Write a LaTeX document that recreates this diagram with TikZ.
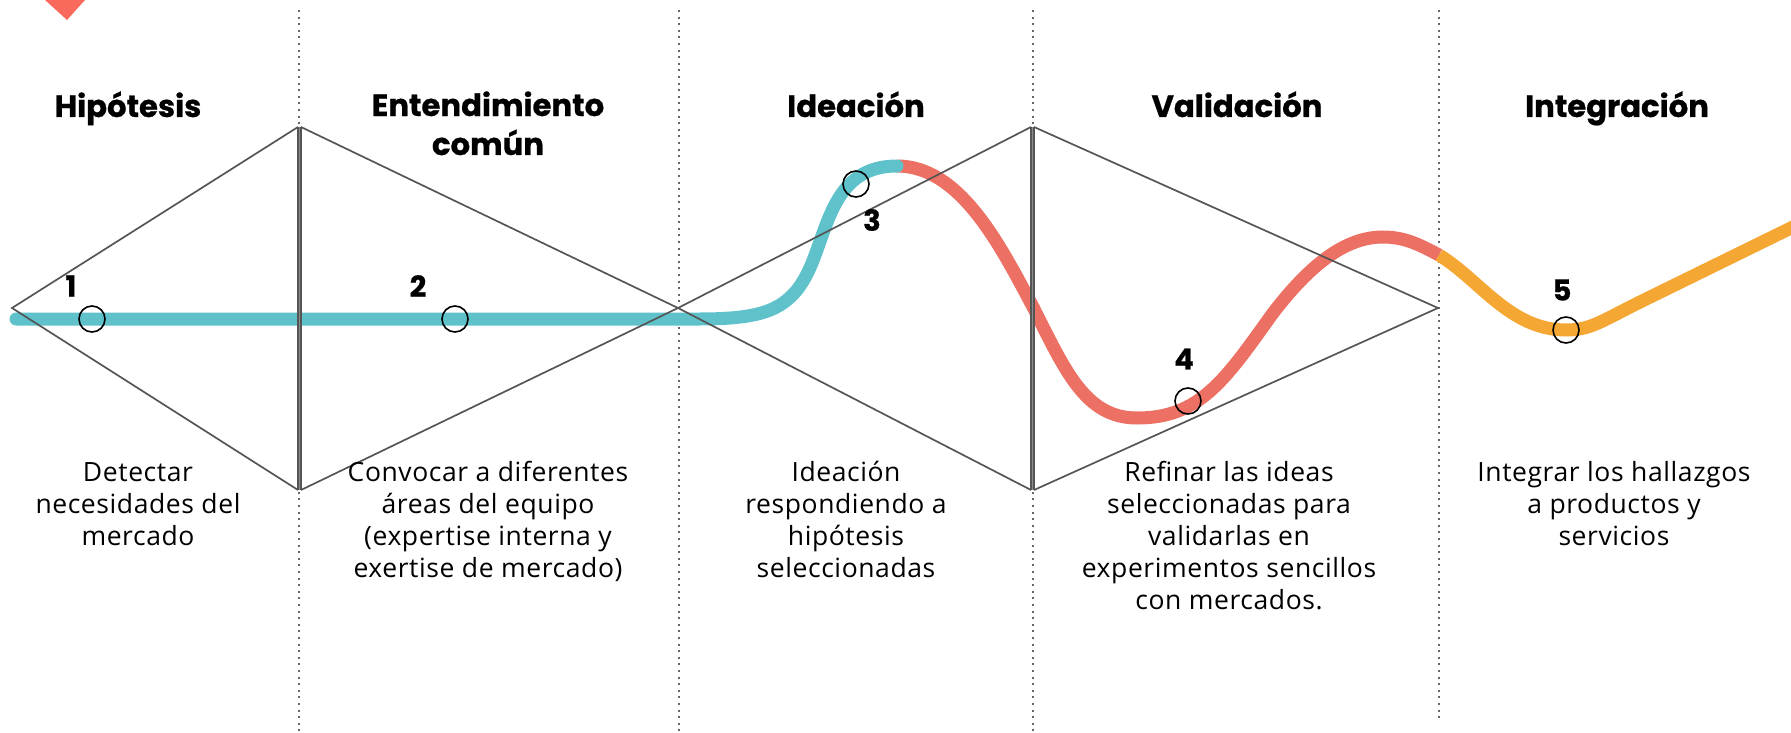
\documentclass[tikz,border=0pt]{standalone}
\usepackage{fontspec}
\setmainfont[LetterSpace=2.2]{Open Sans}
\newfontfamily\headfont[FakeBold=0.7]{Poppins}
\definecolor{teal1}{HTML}{5FC2CB}
\definecolor{red1}{HTML}{EC7063}
\definecolor{orange1}{HTML}{F5A733}
\definecolor{diam}{HTML}{FA6A5C}
\definecolor{linegray}{HTML}{555555}
\definecolor{wallmid}{HTML}{8C8C8C}
\definecolor{dotgray}{HTML}{666666}
\tikzset{
  sep/.style={draw=dotgray,line width=2pt,dash pattern=on 2pt off 4.6pt},
  frame/.style={draw=linegray,line width=1.7pt},
  wall/.style={draw=wallmid,line width=4pt},
  wallside/.style={draw=linegray,line width=1.5pt},
  curve/.style={line width=13pt},
  mark1/.style={circle,draw=black,line width=1.6pt,minimum size=26pt,inner sep=0pt},
  head/.style={font=\headfont\bfseries\fontsize{30.7}{39}\selectfont,align=center,inner sep=0pt,anchor=base},
  body/.style={font=\fontsize{26.5}{32}\selectfont,align=center,inner sep=0pt,anchor=base},
  num/.style={font=\headfont\bfseries\fontsize{29}{30}\selectfont,inner sep=0pt},
}
\begin{document}
\begin{tikzpicture}[x=1pt,y=-1pt]
\useasboundingbox (0,0) rectangle (1791,733);
\fill[diam] (45,0) -- (67,20) -- (85,0) -- cycle;
\foreach \x/\b in {299/733,679/733,1033/733,1439/718}{
  \draw[sep] (\x,10) -- (\x,\b);
}
\coordinate (a1) at (12,308);
\coordinate (t1) at (298,127);
\coordinate (b1) at (298,490);
\coordinate (t2) at (301,127);
\coordinate (b2) at (301,490);
\coordinate (a2) at (678,308);
\coordinate (t3) at (1031,127);
\coordinate (b3) at (1031,490);
\coordinate (t4) at (1034,127);
\coordinate (b4) at (1034,490);
\coordinate (a3) at (1438,308);
% curve
\draw[curve,red1] (897,166) .. controls (960,166) and (1000,245) .. (1033,307)
  .. controls (1065,370) and (1085,418) .. (1137,418)
  .. controls (1200,418) and (1225,380) .. (1273,313)
  .. controls (1310,265) and (1345,237) .. (1383,237)
  .. controls (1405,237) and (1420,245) .. (1439,255);
\draw[curve,teal1,line cap=round] (897,166) .. controls (850,166) and (835,200) .. (823,233)
  .. controls (815,255) and (810,273) .. (797,290)
  .. controls (780,310) and (760,319) .. (700,319) -- (16,319);
\draw[curve,orange1] (1439,255) .. controls (1480,280) and (1510,330) .. (1566,330)
  .. controls (1590,330) and (1600,322) .. (1640,302) -- (1795,226);
\draw[frame] (t1) -- (a1) -- (b1);
\draw[frame] (t2) -- (a2) -- (b2);
\draw[frame] (t3) -- (a2) -- (b3);
\draw[frame] (t4) -- (a3) -- (b4);
\draw[wall] (299.5,127) -- (299.5,490);
\draw[wall] (1032.5,127) -- (1032.5,490);
\draw[wallside] (t1) -- (b1);
\draw[wallside] (t2) -- (b2);
\draw[wallside] (t3) -- (b3);
\draw[wallside] (t4) -- (b4);
\node[mark1] (c1) at (92,319) {};
\node[mark1] (c2) at (455,319) {};
\node[mark1] (c3) at (856,184) {};
\node[mark1] (c4) at (1188,401) {};
\node[mark1] (c5) at (1566,330) {};
\node[num] (n1) at (71,286) {1};
\node[num] (n2) at (418,286) {2};
\node[num] (n3) at (872,220) {3};
\node[num] (n4) at (1184,359) {4};
\node[num] (n5) at (1562,290) {5};
\node[head] (h1) at (128,117) {Hipótesis};
\node[head] (h2) at (488,155) {Entendimiento\\común};
\node[head] (h3) at (856,117) {Ideación};
\node[head] (h4) at (1237,117) {Validación};
\node[head] (h5) at (1617,117) {Integración};
\node[body] (t1x) at (138,545) {Detectar\\necesidades del\\mercado};
\node[body] (t2x) at (488,577) {Convocar a diferentes\\áreas del equipo\\(expertise interna y\\exertise de mercado)};
\node[body] (t3x) at (846,577) {Ideación\\respondiendo a\\hipótesis\\seleccionadas};
\node[body] (t4x) at (1229,609) {Refinar las ideas\\seleccionadas para\\validarlas en\\experimentos sencillos\\con mercados.};
\node[body] (t5x) at (1614,545) {Integrar los hallazgos\\a productos y\\servicios};
\end{tikzpicture}
\end{document}
